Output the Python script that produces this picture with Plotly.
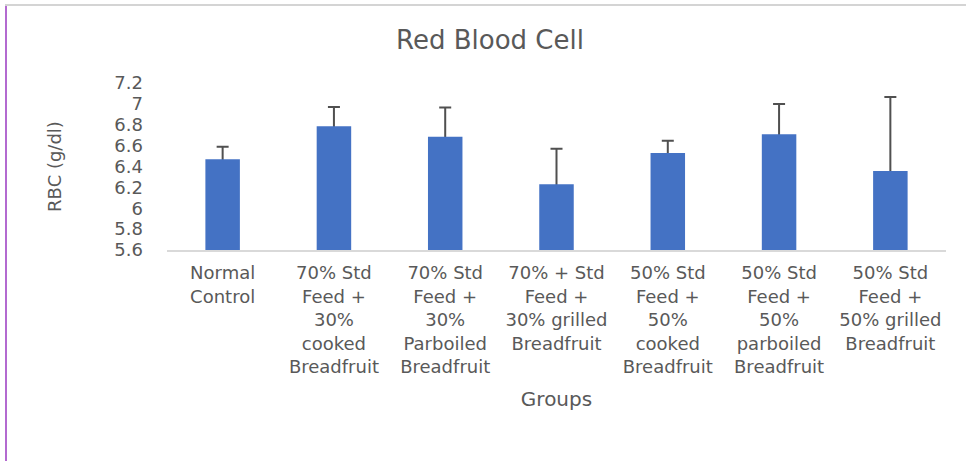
import plotly.graph_objects as go

categories = [
    "Normal<br>Control",
    "70% Std<br>Feed +<br>30%<br>cooked<br>Breadfruit",
    "70% Std<br>Feed +<br>30%<br>Parboiled<br>Breadfruit",
    "70% + Std<br>Feed +<br>30% grilled<br>Breadfruit",
    "50% Std<br>Feed +<br>50%<br>cooked<br>Breadfruit",
    "50% Std<br>Feed +<br>50%<br>parboiled<br>Breadfruit",
    "50% Std<br>Feed +<br>50% grilled<br>Breadfruit",
]
rbc_mean = [6.47, 6.785, 6.685, 6.23, 6.53, 6.71, 6.357]
rbc_err = [0.12, 0.185, 0.28, 0.34, 0.117, 0.29, 0.71]
y_ticks = [5.6, 5.8, 6.0, 6.2, 6.4, 6.6, 6.8, 7.0, 7.2]
y_tick_text = ["5.6", "5.8", "6", "6.2", "6.4", "6.6", "6.8", "7", "7.2"]

FONT = "DejaVu Sans"
GRAY = "#595959"
W, H = 966, 461
ML, MR, MT, MB = 167, 20, 83, 211
PW = W - ML - MR
PH = H - MT - MB

fig = go.Figure()
# error bars (drawn beneath the bars so only the upper part shows)
fig.add_trace(go.Bar(
    x=categories, y=rbc_mean,
    marker=dict(color="rgba(0,0,0,0)", line=dict(width=0)),
    error_y=dict(type="data", array=rbc_err, symmetric=True,
                 color="#505050", thickness=2, width=6),
    hoverinfo="skip", showlegend=False,
))
fig.add_trace(go.Bar(
    x=categories, y=rbc_mean,
    marker=dict(color="#4472C4", line=dict(width=0)),
    showlegend=False,
))

# page border decoration (left purple, top gray)
fig.add_shape(type="line", xref="paper", yref="paper",
              x0=(6 - ML) / PW, x1=(6 - ML) / PW,
              y0=(H - MB - 4) / PH, y1=-MB / PH,
              line=dict(color="#b36ad0", width=2))
fig.add_shape(type="line", xref="paper", yref="paper",
              x0=(5 - ML) / PW, x1=(W - ML) / PW,
              y0=(H - MB - 5) / PH, y1=(H - MB - 5) / PH,
              line=dict(color="#d4d4d4", width=2))

fig.update_layout(
    width=W, height=H,
    margin=dict(l=ML, r=MR, t=MT, b=MB, pad=0),
    paper_bgcolor="white", plot_bgcolor="white",
    barmode="overlay", bargap=0.69,
    font=dict(family=FONT, color=GRAY),
    title=dict(text="Red Blood Cell", x=490 / W, xanchor="center",
               y=1 - 40 / H, yanchor="middle",
               font=dict(family=FONT, size=26, color=GRAY)),
    xaxis=dict(
        showline=True, linecolor="#d9d9d9", linewidth=1.5,
        showgrid=False, ticks="", tickangle=0,
        tickfont=dict(family=FONT, size=18, color=GRAY),
        ticklabelstandoff=6,
        title=dict(text="Groups", standoff=16,
                   font=dict(family=FONT, size=20, color=GRAY)),
    ),
    yaxis=dict(
        range=[5.6, 7.2], tickvals=y_ticks, ticktext=y_tick_text,
        showline=False, showgrid=False, zeroline=False, ticks="",
        tickfont=dict(family=FONT, size=18, color=GRAY),
        ticklabelstandoff=23,
        title=dict(text="RBC (g/dl)", standoff=48,
                   font=dict(family=FONT, size=18, color=GRAY)),
    ),
)

fig.write_html("out.html", config={"displayModeBar": False},
               post_script="document.body.style.margin='0';")
